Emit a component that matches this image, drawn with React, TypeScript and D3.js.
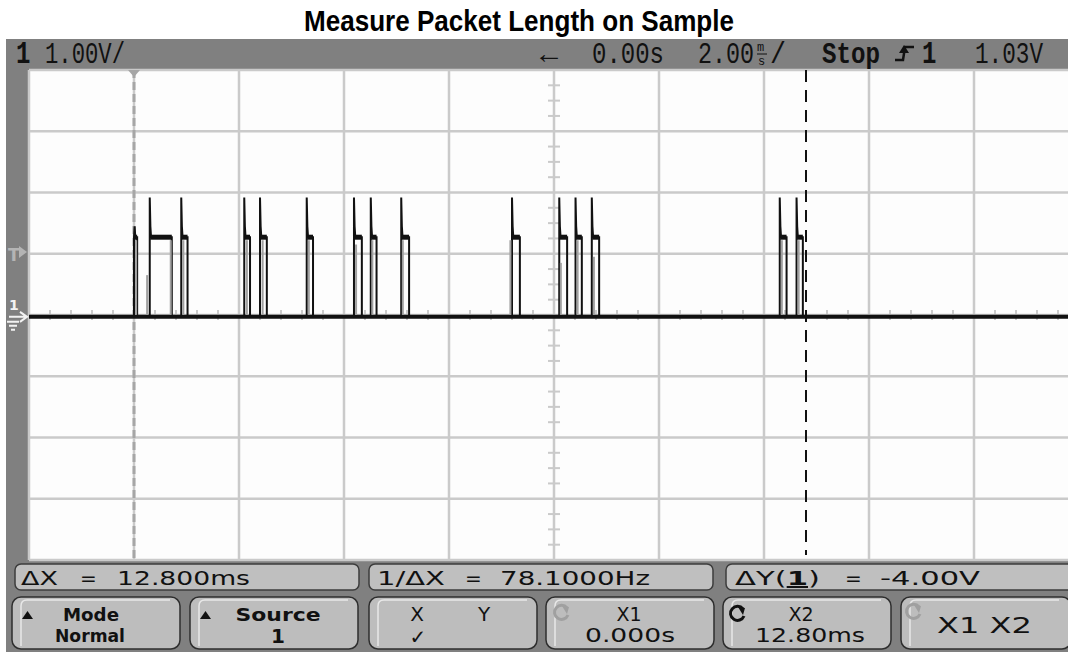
import React from "react";
import * as d3 from "d3";

// ---- data ----
const title = "Measure Packet Length on Sample";

// time (ms) of each pulse's rising and falling edge, and the overshoot peak (V)
const pulseRise = [0.0, 0.30, 0.90, 2.10, 2.40, 3.29, 4.19, 4.51, 5.09, 7.20, 8.10, 8.41, 8.72, 12.30, 12.62];
const pulseFall = [0.06, 0.72, 1.02, 2.21, 2.53, 3.41, 4.34, 4.62, 5.24, 7.35, 8.25, 8.53, 8.86, 12.43, 12.74];
const pulsePeak = [1.27, 1.92, 1.92, 1.92, 1.92, 1.92, 1.92, 1.92, 1.92, 1.92, 1.92, 1.92, 1.92, 1.92, 1.92];
const plateau = 1.27;
const baseLevel = -0.03;

// dim second-acquisition edges: [time ms, top V]
const ghostEdges: [number, number][] = [
  [0.04, 1.27], [0.25, 0.7], [0.70, 1.27], [0.94, 1.27], [2.15, 1.27], [2.45, 1.27],
  [3.33, 1.27], [4.23, 1.2], [4.54, 1.27], [5.12, 1.27], [7.17, 1.27], [8.13, 0.9],
  [8.45, 1.27], [8.76, 1.0], [12.34, 1.27], [12.66, 1.27],
];

const cursorX1 = 0.0;
const cursorX2 = 12.8;
const triggerLevel = 1.03;

const topBar = { scale: "1.00V/", delay: "0.00s", timebase: "2.00", state: "Stop", trig: "1.03V" };
const readouts = [
  ["ΔX", "=", "12.800ms"],
  ["1/ΔX", "=", "78.1000Hz"],
  ["ΔY(1)", "=", "-4.00V"],
];
const softkeys = [
  ["Mode", "Normal"],
  ["Source", "1"],
  ["X      Y", "✓"],
  ["X1", "0.000s"],
  ["X2", "12.80ms"],
  ["X1  X2", ""],
];

const W = 1068;
const H = 652;
const GRID = { left: 29, top: 70, right: 1079, bottom: 560 };

const x = d3.scaleLinear().domain([-2, 18]).range([GRID.left, GRID.right]);
const y = d3.scaleLinear().domain([-4, 4]).range([GRID.bottom, GRID.top]);

const FRAME = "#808080";
const GRIDC = "#cacaca";
const MONO = "'Liberation Mono', 'DejaVu Sans Mono', monospace";
const SANS = "'DejaVu Sans', Verdana, sans-serif";

// readout text layout: [label x, label width, "=" x, value x, value width]
const readoutPos = [
  [21, 37, 80, 117, 133],
  [377, 68, 465, 500, 150],
  [735, 85, 845, 880, 100],
];

// status-line text: tall, narrow scope font
const Tall = ({ x0, w, children, bold, size = 22 }: { x0: number; w?: number; children: React.ReactNode; bold?: boolean; size?: number }) => (
  <text transform={`translate(${x0},63) scale(1,1.3)`} fontFamily={MONO} fontSize={size} fill="#111"
    fontWeight={bold ? "bold" : "normal"} textLength={w} lengthAdjust={w ? "spacingAndGlyphs" : undefined}>{children}</text>
);

export default function App() {
  const line = d3.line<[number, number]>().x(d => x(d[0])).y(d => y(d[1]));

  // main (black) trace
  const trace: [number, number][] = [[-2, baseLevel]];
  pulseRise.forEach((r, i) => {
    trace.push([r, baseLevel], [r, pulsePeak[i]], [r + 0.012, 1.45], [r + 0.025, plateau],
      [pulseFall[i], plateau], [pulseFall[i], baseLevel]);
  });
  trace.push([18, baseLevel]);

  const vTicks = d3.range(-4, 4.001, 0.25).filter(v => Math.abs(v % 1) > 0.01);
  const hTicks = d3.range(-2, 18.001, 0.4).filter(t => Math.abs(((t + 2) / 2) % 1) > 0.01 && Math.abs(((t + 2) / 2) % 1) < 0.99);

  const btnX = [12, 190, 369, 546, 723, 901];
  const boxX = [15, 369, 726];

  const arrowIcon = (cx: number, cy: number, color: string) => (
    <g stroke={color} fill="none" strokeWidth={3}>
      <path d={`M${cx + 6},${cy - 5} A7,7 0 1 0 ${cx + 7},${cy + 2}`} />
      <path d={`M${cx + 1},${cy - 7} L${cx + 8},${cy - 6} L${cx + 6},${cy + 1}`} fill={color} stroke="none" />
    </g>
  );

  return (
    <svg width={W} height={H} style={{ position: "absolute", left: 0, top: 0, display: "block", background: "#fff" }}>
      {/* title */}
      <text x={519} y={31} textAnchor="middle" fontFamily="'Liberation Sans Narrow', 'Liberation Sans', Arial, sans-serif"
        fontWeight="bold" fontSize={29} fill="#000" textLength={430} lengthAdjust="spacingAndGlyphs">{title}</text>

      {/* scope frame */}
      <rect x={6} y={39} width={W - 6} height={H - 39} fill={FRAME} />
      <rect x={GRID.left} y={GRID.top} width={W - GRID.left} height={GRID.bottom - GRID.top} fill="#fdfdfd" />

      {/* graticule */}
      <g stroke={GRIDC} strokeWidth={2.5}>
        {x.ticks(10).map(t => <line key={"gx" + t} x1={x(t)} x2={x(t)} y1={GRID.top} y2={GRID.bottom} />)}
        {y.ticks(8).map(v => <line key={"gy" + v} x1={GRID.left} x2={W} y1={y(v)} y2={y(v)} />)}
      </g>
      <g stroke={GRIDC} strokeWidth={2}>
        {vTicks.map(v => <line key={"vt" + v} x1={x(8) - 6} x2={x(8) + 6} y1={y(v)} y2={y(v)} />)}
        {hTicks.map(t => <line key={"ht" + t} x1={x(t)} x2={x(t)} y1={y(0) - 5} y2={y(0) + 5} />)}
      </g>

      {/* X1 cursor */}
      <line x1={x(cursorX1)} x2={x(cursorX1)} y1={GRID.top} y2={GRID.bottom} stroke="#a6a6a6" strokeWidth={3} strokeDasharray="8 4" />
      <path d={`M${x(cursorX1) - 6},${GRID.top} L${x(cursorX1) + 6},${GRID.top} L${x(cursorX1)},${GRID.top + 7} Z`} fill="#a6a6a6" />

      {/* waveform */}
      <path d={line(trace) || ""} fill="none" stroke="#111" strokeWidth={2} />
      <line x1={x(-2)} x2={W} y1={y(baseLevel)} y2={y(baseLevel)} stroke="#111" strokeWidth={4} />
      <g stroke="#111" strokeWidth={5}>
        {pulseRise.map((r, i) => <line key={"p" + i} x1={x(r + 0.01)} x2={x(pulseFall[i])} y1={y(plateau)} y2={y(plateau)} />)}
      </g>

      {/* dim edges */}
      <g stroke="#a0a0a0" strokeWidth={2}>
        {ghostEdges.map(([t, v], i) => <line key={"g" + i} x1={x(t)} x2={x(t)} y1={y(baseLevel) - 2} y2={y(v) + 3} />)}
      </g>

      {/* X2 cursor */}
      <line x1={x(cursorX2)} x2={x(cursorX2)} y1={GRID.top} y2={GRID.bottom - 5} stroke="#111" strokeWidth={2} strokeDasharray="12 8" />

      {/* left-edge markers */}
      <text x={8} y={261} fontFamily={SANS} fontSize={17} fill="#b4b4b4" fontWeight="bold">T</text>
      <path d={`M19,${y(triggerLevel) - 6} L27,${y(triggerLevel)} L19,${y(triggerLevel) + 6} Z`} fill="#b4b4b4" />
      <text x={9} y={310} fontFamily={SANS} fontSize={14} fontWeight="bold" fill="#f2f2f2">1</text>
      <g stroke="#f2f2f2" strokeWidth={2} fill="none">
        <path d={`M9,${y(baseLevel)} L26,${y(baseLevel)} M20,${y(baseLevel) - 5} L27,${y(baseLevel)} L20,${y(baseLevel) + 5}`} />
        <path d={`M7,${y(baseLevel) + 5} L19,${y(baseLevel) + 5} M9,${y(baseLevel) + 9} L17,${y(baseLevel) + 9} M11,${y(baseLevel) + 13} L15,${y(baseLevel) + 13}`} />
      </g>

      {/* status line */}
      <Tall x0={16} bold size={24}>1</Tall>
      <Tall x0={45} w={80}>{topBar.scale}</Tall>
      <Tall x0={540} w={18}>←</Tall>
      <Tall x0={592} w={72}>{topBar.delay}</Tall>
      <Tall x0={698} w={56}>{topBar.timebase}</Tall>
      <text x={757} y={51} fontFamily={MONO} fontSize={12} fill="#111">m</text>
      <line x1={757} x2={767} y1={54} y2={54} stroke="#111" strokeWidth={1} />
      <text x={758} y={65} fontFamily={MONO} fontSize={12} fill="#111">s</text>
      <Tall x0={770} w={16}>/</Tall>
      <Tall x0={822} w={58} bold>{topBar.state}</Tall>
      <path d="M895,60 L903,60 L905,47 L914,47" stroke="#111" strokeWidth={2.5} fill="none" />
      <path d="M899,53 L904,45 L909,53 Z" fill="#111" />
      <Tall x0={922} bold size={24}>1</Tall>
      <Tall x0={975} w={68}>{topBar.trig}</Tall>

      {/* readout row */}
      {readouts.map((r, i) => {
        const p = readoutPos[i];
        return (
          <g key={"r" + i}>
            <rect x={boxX[i]} y={564} width={i === 2 ? 360 : 344} height={26} rx={6} fill="#bfbfbf" stroke="#3c3c3c" strokeWidth={1.5} />
            <g fontFamily={SANS} fontSize={20} fill="#111">
              <text x={p[0]} y={585} textLength={p[1]} lengthAdjust="spacingAndGlyphs">
                {r[0] === "ΔY(1)" ? <>ΔY(<tspan fontWeight="bold" textDecoration="underline">1</tspan>)</> : r[0]}
              </text>
              <text x={p[2]} y={585}>{r[1]}</text>
              <text x={p[3]} y={585} textLength={p[4]} lengthAdjust="spacingAndGlyphs">{r[2]}</text>
            </g>
          </g>
        );
      })}

      {/* softkeys */}
      {softkeys.map((k, i) => {
        const bx = btnX[i];
        return (
          <g key={"k" + i}>
            <rect x={bx} y={597} width={i === 5 ? 170 : 168} height={52} rx={9} fill="#bdbdbd" stroke="#2e2e2e" strokeWidth={1.5} />
            <path d={`M${bx + 9},${646} L${bx + 9},${606} Q${bx + 9},${600} ${bx + 15},${600} L${bx + 158},${600}`} stroke="#e8e8e8" strokeWidth={1.5} fill="none" />
          </g>
        );
      })}
      <g fontFamily={SANS} fill="#111">
        <path d="M22,619 L33,619 L27.5,611 Z" fill="#111" />
        <text x={91} y={621} fontSize={18} fontWeight="bold" textAnchor="middle" textLength={56} lengthAdjust="spacingAndGlyphs">{softkeys[0][0]}</text>
        <text x={90} y={642} fontSize={18} fontWeight="bold" textAnchor="middle" textLength={70} lengthAdjust="spacingAndGlyphs">{softkeys[0][1]}</text>
        <path d="M200,619 L211,619 L205.5,611 Z" fill="#111" />
        <text x={278} y={621} fontSize={18} fontWeight="bold" textAnchor="middle" textLength={85} lengthAdjust="spacingAndGlyphs">{softkeys[1][0]}</text>
        <text x={278} y={643} fontSize={20} fontWeight="bold" textAnchor="middle">{softkeys[1][1]}</text>
        <text x={417} y={621} fontSize={20} textAnchor="middle">X</text>
        <text x={484} y={621} fontSize={20} textAnchor="middle">Y</text>
        <text x={418} y={644} fontSize={20} textAnchor="middle">{softkeys[2][1]}</text>
        <text x={629} y={621} fontSize={19} textAnchor="middle">{softkeys[3][0]}</text>
        <text x={585} y={642} fontSize={19} textLength={90} lengthAdjust="spacingAndGlyphs">{softkeys[3][1]}</text>
        <text x={801} y={621} fontSize={19} textAnchor="middle">{softkeys[4][0]}</text>
        <text x={755} y={642} fontSize={19} textLength={110} lengthAdjust="spacingAndGlyphs">{softkeys[4][1]}</text>
        <text x={937} y={633} fontSize={21} textLength={95} lengthAdjust="spacingAndGlyphs">{softkeys[5][0]}</text>
      </g>
      {arrowIcon(561, 613, "#a0a0a0")}
      {arrowIcon(737, 614, "#111")}
      {arrowIcon(913, 612, "#a0a0a0")}
    </svg>
  );
}
